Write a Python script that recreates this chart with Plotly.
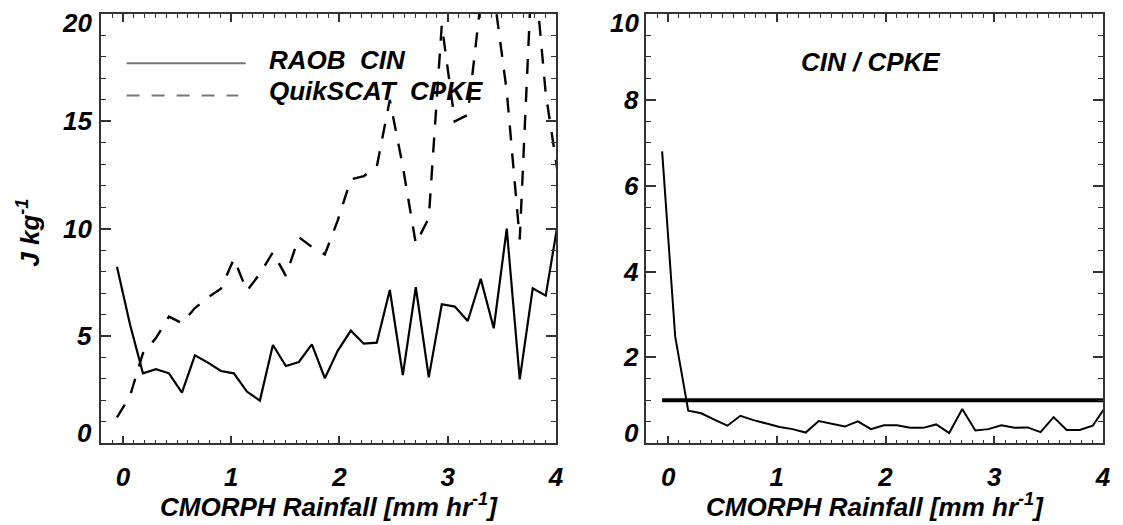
import plotly.graph_objects as go

# ---------------- data ----------------
rain_bins = [-0.055, 0.065, 0.185, 0.305, 0.425, 0.545, 0.665, 0.785, 0.905, 1.025,
             1.145, 1.265, 1.385, 1.505, 1.625, 1.745, 1.865, 1.985, 2.105, 2.225,
             2.345, 2.465, 2.585, 2.705, 2.825, 2.945, 3.065, 3.185, 3.305, 3.425,
             3.545, 3.665, 3.785, 3.905, 4.025]
raob_cin = [8.23, 5.55, 3.26, 3.45, 3.26, 2.36, 4.10, 3.76, 3.37, 3.26,
            2.41, 1.99, 4.58, 3.60, 3.79, 4.61, 3.03, 4.32, 5.25, 4.64,
            4.69, 7.14, 3.18, 7.27, 3.07, 6.48, 6.37, 5.70, 7.66, 5.36,
            10.0, 2.98, 7.22, 6.88, 10.5]
quikscat_cpke = [1.21, 2.2, 4.2, 4.9, 5.9, 5.6, 6.3, 6.8, 7.2, 8.6,
                 7.1, 7.9, 8.9, 7.8, 9.6, 9.15, 8.8, 10.4, 12.3, 12.45,
                 12.9, 16.0, 12.9, 9.3, 10.5, 19.5, 15.0, 15.3, 20.6, 21.0,
                 16.4, 9.5, 23.0, 16.3, 12.3]
cin_cpke_ratio = [6.80, 2.49, 0.76, 0.70, 0.55, 0.41, 0.64, 0.54, 0.46, 0.38,
                  0.33, 0.25, 0.52, 0.46, 0.39, 0.51, 0.33, 0.42, 0.42, 0.36,
                  0.36, 0.44, 0.24, 0.80, 0.30, 0.33, 0.42, 0.36, 0.37, 0.26,
                  0.61, 0.31, 0.31, 0.41, 0.86]
ratio_reference = 1.0

left_yticks = [0, 5, 10, 15, 20]
left_yticklabels = ["0", "5", "10", "15", "20"]
right_yticks = [0, 2, 4, 6, 8, 10]
right_yticklabels = ["0", "2", "4", "6", "8", "10"]

series_names = ["RAOB\u00a0\u00a0CIN", "QuikSCAT\u00a0\u00a0CPKE"]
ratio_title = "CIN / CPKE"
x_title = "CMORPH Rainfall [mm hr<sup>-1</sup>]"
y_title = "J kg<sup>-1</sup>"

# ---------------- layout constants ----------------
W, H = 1123, 525
FONT = "Liberation Sans, Arial, Helvetica, sans-serif"
FS = 26
AX = "#333333"


def px_x(p):
    return p / W


def px_y(p):
    return 1 - p / H


def bfont(size=FS, color="black"):
    return dict(family=FONT, size=size, color=color, weight="bold", style="italic")


fig = go.Figure()

fig.add_trace(go.Scatter(x=rain_bins, y=raob_cin, mode="lines", xaxis="x", yaxis="y",
                         line=dict(color="black", width=2.2), showlegend=False,
                         name=series_names[0]))
fig.add_trace(go.Scatter(x=rain_bins, y=quikscat_cpke, mode="lines", xaxis="x", yaxis="y",
                         line=dict(color="black", width=2.4, dash="15px,13px"),
                         showlegend=False, name=series_names[1]))
fig.add_trace(go.Scatter(x=rain_bins, y=cin_cpke_ratio, mode="lines", xaxis="x2", yaxis="y2",
                         line=dict(color="black", width=2.0), showlegend=False,
                         name=ratio_title))
fig.add_trace(go.Scatter(x=[rain_bins[0], rain_bins[-1]],
                         y=[ratio_reference, ratio_reference], mode="lines",
                         xaxis="x2", yaxis="y2", line=dict(color="black", width=4),
                         showlegend=False, name="ratio = 1"))

xdom1 = [px_x(102), px_x(560)]
xdom2 = [px_x(651), px_x(1111)]
ydom = [px_y(443.3), px_y(14)]


def xaxis_cfg(domain, anchor):
    return dict(domain=domain, anchor=anchor, range=[-0.2, 4], showgrid=False,
                zeroline=False, showline=True, linecolor=AX, linewidth=1.5,
                mirror="ticks", ticks="inside", ticklen=8, tickwidth=1.5, tickcolor=AX,
                tickmode="linear", tick0=0, dtick=1, tickfont=bfont(),
                ticklabelstandoff=10,
                minor=dict(ticks="inside", dtick=0.1, tick0=0, ticklen=4,
                           tickwidth=1.2, tickcolor=AX, showgrid=False))


def yaxis_cfg(domain, anchor, rng, dtick, mdtick):
    return dict(domain=domain, anchor=anchor, range=rng, showgrid=False,
                zeroline=False, showline=True, linecolor=AX, linewidth=1.5,
                mirror="ticks", ticks="inside", ticklen=10, tickwidth=1.5, tickcolor=AX,
                tickmode="linear", dtick=dtick, tick0=0, showticklabels=False,
                minor=dict(ticks="inside", dtick=mdtick, tick0=0, ticklen=5,
                           tickwidth=1.2, tickcolor=AX, showgrid=False))


annotations = []
# y tick labels (end labels kept inside the frame, as in the reference)
for vals, labs, xr, yr, xs in [(left_yticks, left_yticklabels, "x domain", "y", -7),
                               (right_yticks, right_yticklabels, "x2 domain", "y2", -5)]:
    for i, (v, t) in enumerate(zip(vals, labs)):
        ys = 0
        if i == 0:
            ys = 10
        elif i == len(vals) - 1:
            ys = -9
        annotations.append(dict(text=t, xref=xr, yref=yr, x=0, y=v, xanchor="right",
                                yanchor="middle", xshift=xs, yshift=ys, showarrow=False,
                                font=bfont()))

# axis titles
for xr in ["x domain", "x2 domain"]:
    annotations.append(dict(text=x_title, xref=xr, yref="paper", x=0.5, y=px_y(505),
                            xanchor="center", yanchor="middle", showarrow=False,
                            font=bfont()))
annotations.append(dict(text=y_title, xref="paper", yref="y domain", x=px_x(29), y=0.49,
                        xanchor="center", yanchor="middle", textangle=-90,
                        showarrow=False, font=bfont()))

# legend text and panel label
annotations.append(dict(text=series_names[0], xref="paper", yref="paper", x=px_x(269),
                        y=px_y(60), xanchor="left", yanchor="middle", showarrow=False,
                        font=bfont()))
annotations.append(dict(text=series_names[1], xref="paper", yref="paper", x=px_x(269),
                        y=px_y(91), xanchor="left", yanchor="middle", showarrow=False,
                        font=bfont()))
annotations.append(dict(text=ratio_title, xref="paper", yref="paper", x=px_x(877),
                        y=px_y(62), xanchor="center", yanchor="middle", showarrow=False,
                        font=bfont()))

shapes = [
    dict(type="line", xref="paper", yref="paper", x0=px_x(127.5), x1=px_x(247.5),
         y0=px_y(63.3), y1=px_y(63.3), line=dict(color="#777777", width=2)),
    dict(type="line", xref="paper", yref="paper", x0=px_x(127.5), x1=px_x(240),
         y0=px_y(95.5), y1=px_y(95.5), line=dict(color="#777777", width=2, dash="13px,12px")),
]

fig.update_layout(
    width=W, height=H, autosize=False,
    margin=dict(l=0, r=0, t=0, b=0, pad=0),
    paper_bgcolor="white", plot_bgcolor="white",
    font=bfont(),
    xaxis=xaxis_cfg(xdom1, "y"),
    yaxis=yaxis_cfg(ydom, "x", [0, 20], 5, 1),
    xaxis2=xaxis_cfg(xdom2, "y2"),
    yaxis2=yaxis_cfg(ydom, "x2", [0, 10], 2, 0.5),
    annotations=annotations,
    shapes=shapes,
    showlegend=False,
)

fig.write_html("out.html", config={"displayModeBar": False})
